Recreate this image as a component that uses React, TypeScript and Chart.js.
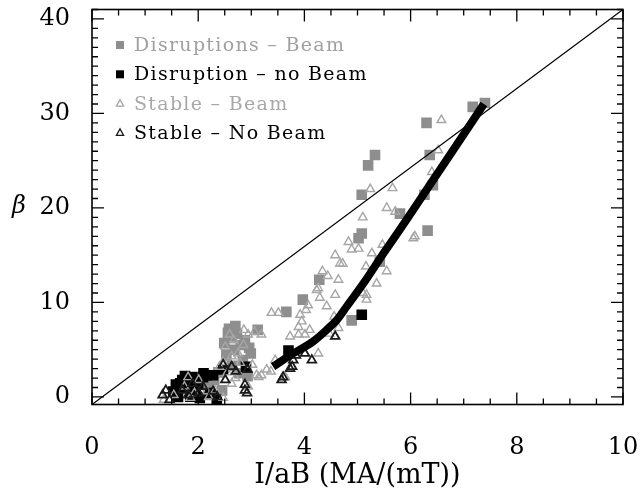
import React, { useEffect, useRef } from 'react';
import { Chart, registerables } from 'chart.js';

Chart.register(...registerables);

// ---- axis ticks / labels ----
const X_TICKS = [0, 2, 4, 6, 8, 10];
const Y_TICKS = [0, 10, 20, 30, 40];
const X_MINOR_STEP = 0.5;
const Y_MINOR_STEP = 1;
const X_TITLE = 'I/aB (MA/(mT))';
const Y_TITLE = 'β';

// ---- legend labels ----
const LEGEND_LABELS = ['Disruptions – Beam', 'Disruption – no Beam', 'Stable – Beam', 'Stable – No Beam'];

// ---- Disruptions – Beam (grey squares) ----
const DB_X = [7.40, 7.17, 6.30, 6.36, 5.33, 5.20, 5.08, 6.42, 6.26, 5.80, 5.08, 5.02, 6.32, 5.42, 4.28, 3.97, 3.66, 4.89, 3.12, 2.96, 2.73, 2.61, 2.49, 2.84, 2.77, 2.30, 2.45, 2.58, 2.68, 2.53, 2.88, 2.64, 2.38, 2.18, 2.93, 2.70, 2.80, 2.56, 2.99];
const DB_Y = [31.1, 30.7, 29.0, 25.6, 25.6, 24.5, 21.4, 22.4, 21.4, 19.4, 17.3, 16.8, 17.6, 14.3, 12.4, 10.3, 9.0, 8.1, 7.1, 5.2, 6.7, 6.4, 5.7, 3.9, 2.5, 1.8, 0.7, 7.2, 5.0, 4.4, 6.0, 3.3, 2.6, 1.2, 2.2, 7.5, 5.5, 6.8, 4.6];

// ---- Disruption – no Beam (black squares) ----
const DN_X = [5.08, 3.70, 2.47, 2.90, 2.16, 2.09, 1.89, 1.70, 1.58, 1.62, 1.78, 2.10, 1.91, 1.66, 1.53, 1.85, 2.03, 2.22, 2.35, 1.75, 2.00, 2.28, 1.60, 1.95];
const DN_Y = [8.7, 4.9, 2.9, 3.2, 2.3, 2.1, 2.1, 1.8, 1.3, 0.0, 1.0, 2.5, 1.8, 1.45, 0.56, 0.03, -0.1, 0.4, -0.3, 2.2, 1.3, 2.3, 0.7, 0.8];

// ---- Stable – Beam (grey open triangles) ----
const SB_X = [6.58, 6.52, 6.40, 5.66, 5.24, 5.55, 5.71, 5.10, 6.05, 6.08, 4.83, 4.89, 5.02, 4.58, 4.67, 4.72, 5.27, 5.47, 5.16, 5.55, 4.34, 4.44, 4.64, 5.36, 4.26, 4.29, 4.58, 5.10, 5.17, 5.17, 4.42, 4.03, 3.38, 3.51, 3.92, 4.07, 4.23, 3.95, 3.89, 3.73, 3.89, 4.01, 4.10, 4.56, 4.64, 4.47, 4.26, 3.45, 3.29, 3.19, 3.10, 3.64, 3.37, 2.51, 2.59, 2.67, 2.86, 2.94, 3.06, 3.19, 2.75, 2.63, 2.47, 2.40, 2.79, 3.02, 3.14, 2.94, 2.63, 2.32, 2.16, 1.93, 1.74, 1.81, 2.01, 1.54, 1.35, 1.85, 2.47, 2.20, 2.70, 2.55, 2.85];
const SB_Y = [29.3, 26.1, 23.8, 22.1, 22.0, 20.0, 19.6, 19.0, 16.8, 17.0, 16.4, 15.6, 15.7, 15.0, 14.1, 14.1, 15.2, 16.1, 13.8, 13.3, 13.3, 12.8, 12.4, 12.0, 11.5, 10.5, 10.8, 11.0, 10.8, 10.3, 9.6, 9.2, 8.9, 8.9, 8.7, 9.7, 11.3, 8.0, 7.4, 6.4, 6.6, 6.6, 7.1, 8.5, 7.3, 6.7, 4.6, 3.9, 2.9, 2.3, 2.3, 2.1, 2.7, 5.3, 6.6, 6.0, 7.1, 6.6, 6.9, 6.6, 4.6, 4.3, 3.7, 3.2, 3.6, 3.4, 2.1, 1.1, 1.4, 0.7, 0.6, 0.4, 1.1, 2.1, 1.8, 0.2, -0.3, -0.1, -0.1, 0.0, 2.0, 2.6, 5.5];

// ---- Stable – No Beam (black open triangles) ----
const SN_X = [4.58, 4.14, 4.01, 3.79, 3.73, 3.57, 3.60, 2.88, 2.88, 3.84, 3.77, 2.93, 2.71, 2.92, 2.51, 1.89, 1.70, 1.39, 1.33, 1.46, 1.81, 2.01, 2.36, 2.28, 2.09, 2.47, 2.63];
const SN_Y = [6.4, 3.9, 4.6, 3.9, 3.0, 1.8, 2.1, 0.7, 1.3, 4.4, 3.2, 2.9, 2.7, 0.4, 1.8, 1.4, 0.7, 0.7, 0.2, -0.3, 0.2, 0.4, 0.0, 0.6, 1.1, 3.4, 3.2];

// ---- thick fitted curve ----
const FIT_X = [3.41, 3.73, 4.17, 4.42, 4.62, 4.80, 5.11, 5.49, 5.93, 6.37, 6.80, 7.38];
const FIT_Y = [3.2, 4.4, 5.9, 7.1, 8.2, 9.6, 12.0, 15.2, 18.8, 22.5, 26.1, 31.0];

// ---- thin diagonal reference line ----
const DIAG_X = [0, 10];
const DIAG_Y = [-0.8, 41];

const X_MIN = 0;
const X_MAX = 10;
const Y_MIN = -0.8;
const Y_MAX = 41;

const zip = (xs: number[], ys: number[]) => xs.map((x, i) => ({ x, y: ys[i] }));

const GREY_SQ = '#8e8e8e';
const GREY_TRI = '#a6a6a6';

const frameTicksPlugin = {
  id: 'frameTicks',
  afterDatasetsDraw(chart: any) {
    const { ctx, chartArea: a, scales } = chart;
    const xs = scales.x;
    const ys = scales.y;
    ctx.save();
    ctx.strokeStyle = '#000';
    ctx.lineWidth = 1.6;
    ctx.strokeRect(a.left, a.top, a.right - a.left, a.bottom - a.top);
    ctx.lineWidth = 1.3;
    ctx.beginPath();
    const nx = Math.round((X_MAX - X_MIN) / X_MINOR_STEP);
    for (let i = 0; i <= nx; i++) {
      const v = X_MIN + i * X_MINOR_STEP;
      const px = xs.getPixelForValue(v);
      const major = X_TICKS.some((t) => Math.abs(t - v) < 1e-6);
      const len = major ? 12 : 6;
      ctx.moveTo(px, a.bottom);
      ctx.lineTo(px, a.bottom - len);
      ctx.moveTo(px, a.top);
      ctx.lineTo(px, a.top + len);
    }
    const y0 = Math.ceil(Y_MIN / Y_MINOR_STEP) * Y_MINOR_STEP;
    for (let v = y0; v <= Y_MAX + 1e-6; v += Y_MINOR_STEP) {
      const py = ys.getPixelForValue(v);
      const major = Y_TICKS.some((t) => Math.abs(t - v) < 1e-6);
      const len = major ? 12 : 6;
      ctx.moveTo(a.left, py);
      ctx.lineTo(a.left + len, py);
      ctx.moveTo(a.right, py);
      ctx.lineTo(a.right - len, py);
    }
    ctx.stroke();
    ctx.restore();
  },
};

const legendPlugin = {
  id: 'insideLegend',
  afterDraw(chart: any) {
    const { ctx, chartArea: a } = chart;
    ctx.save();
    ctx.font = '19px "DejaVu Serif"';
    try { (ctx as any).letterSpacing = '1.3px'; } catch (e) { /* ignore */ }
    ctx.textBaseline = 'middle';
    ctx.textAlign = 'left';
    chart.data.datasets.forEach((ds: any) => {
      if (ds.legendRow === undefined) return;
      const y = a.top + 35.5 + ds.legendRow * 29.3;
      const mx = a.left + 28;
      if (ds.pointStyle === 'rect') {
        ctx.fillStyle = ds.backgroundColor;
        ctx.fillRect(mx - 4, y - 4, 8, 8);
      } else {
        ctx.strokeStyle = ds.borderColor;
        ctx.lineWidth = 1.3;
        ctx.beginPath();
        ctx.moveTo(mx, y - 4);
        ctx.lineTo(mx + 3.6, y + 2.5);
        ctx.lineTo(mx - 3.6, y + 2.5);
        ctx.closePath();
        ctx.stroke();
      }
      ctx.fillStyle = ds.legendColor;
      ctx.fillText(ds.label, a.left + 42, y + 1);
    });
    try { (ctx as any).letterSpacing = '0px'; } catch (e) { /* ignore */ }
    // y-axis symbol, upright
    ctx.font = 'italic 24px "DejaVu Serif"';
    ctx.fillStyle = '#000';
    ctx.textAlign = 'center';
    ctx.fillText(Y_TITLE, 19, (a.top + a.bottom) / 2);
    ctx.restore();
  },
};

export default function App() {
  const ref = useRef<HTMLCanvasElement | null>(null);

  useEffect(() => {
    if (!ref.current) return;
    const chart = new Chart(ref.current, {
      type: 'scatter',
      data: {
        datasets: [
          {
            label: 'fit',
            data: zip(FIT_X, FIT_Y),
            showLine: true,
            borderColor: '#000',
            borderWidth: 8,
            pointRadius: 0,
            cubicInterpolationMode: 'monotone',
            borderCapStyle: 'butt',
          } as any,
          {
            label: 'limit',
            data: zip(DIAG_X, DIAG_Y),
            showLine: true,
            borderColor: '#000',
            borderWidth: 1.2,
            pointRadius: 0,
          },
          {
            label: LEGEND_LABELS[3],
            data: zip(SN_X, SN_Y),
            pointStyle: 'triangle',
            pointRadius: 5,
            borderColor: '#1a1a1a',
            backgroundColor: 'rgba(255,255,255,0)',
            borderWidth: 1.8,
            legendRow: 3,
            legendColor: '#000',
          } as any,
          {
            label: LEGEND_LABELS[2],
            data: zip(SB_X, SB_Y),
            pointStyle: 'triangle',
            pointRadius: 5,
            borderColor: GREY_TRI,
            backgroundColor: 'rgba(255,255,255,0)',
            borderWidth: 1.4,
            legendRow: 2,
            legendColor: '#a8a8a8',
          } as any,
          {
            label: LEGEND_LABELS[1],
            data: zip(DN_X, DN_Y),
            pointStyle: 'rect',
            pointRadius: 7.5,
            borderWidth: 0,
            backgroundColor: '#000',
            borderColor: '#000',
            legendRow: 1,
            legendColor: '#000',
          } as any,
          {
            label: LEGEND_LABELS[0],
            data: zip(DB_X, DB_Y),
            pointStyle: 'rect',
            pointRadius: 7.5,
            borderWidth: 0,
            backgroundColor: GREY_SQ,
            borderColor: GREY_SQ,
            legendRow: 0,
            legendColor: '#a0a0a0',
          } as any,
        ],
      },
      options: {
        animation: false,
        responsive: false,
        events: [],
        layout: { padding: { left: 0, right: 21, top: 9.5, bottom: 0 } },
        plugins: {
          legend: { display: false },
          tooltip: { enabled: false },
        },
        scales: {
          x: {
            type: 'linear',
            min: X_MIN,
            max: X_MAX,
            grid: { display: false },
            border: { display: false },
            afterBuildTicks: (s: any) => {
              s.ticks = X_TICKS.map((v) => ({ value: v }));
            },
            afterFit: (s: any) => {
              s.height = 93.5;
              s.paddingLeft = 0;
              s.paddingRight = 0;
              s.paddingTop = 0;
              s.paddingBottom = 0;
            },
            ticks: {
              color: '#000',
              padding: 21,
              maxRotation: 0,
              font: { family: '"DejaVu Serif"', size: 24 },
              callback: (v: any) => String(v),
            },
            title: {
              display: true,
              text: X_TITLE,
              color: '#000',
              font: { family: '"DejaVu Serif"', size: 27 },
              padding: { top: 0, bottom: 6 },
            },
          },
          y: {
            type: 'linear',
            min: Y_MIN,
            max: Y_MAX,
            grid: { display: false },
            border: { display: false },
            afterBuildTicks: (s: any) => {
              s.ticks = Y_TICKS.map((v) => ({ value: v }));
            },
            afterFit: (s: any) => {
              s.width = 92;
              s.paddingLeft = 0;
              s.paddingRight = 0;
              s.paddingTop = 0;
              s.paddingBottom = 0;
            },
            ticks: {
              color: '#000',
              padding: 14,
              font: { family: '"DejaVu Serif"', size: 24 },
              callback: (v: any) => String(v),
            },
            title: { display: false },
          },
        },
      },
      plugins: [frameTicksPlugin, legendPlugin],
    });
    return () => chart.destroy();
  }, []);

  return (
    <div style={{ position: 'fixed', left: 0, top: 0, width: 644, height: 498, background: '#fff' }}>
      <canvas ref={ref} width={644} height={498} style={{ display: 'block' }} />
    </div>
  );
}
